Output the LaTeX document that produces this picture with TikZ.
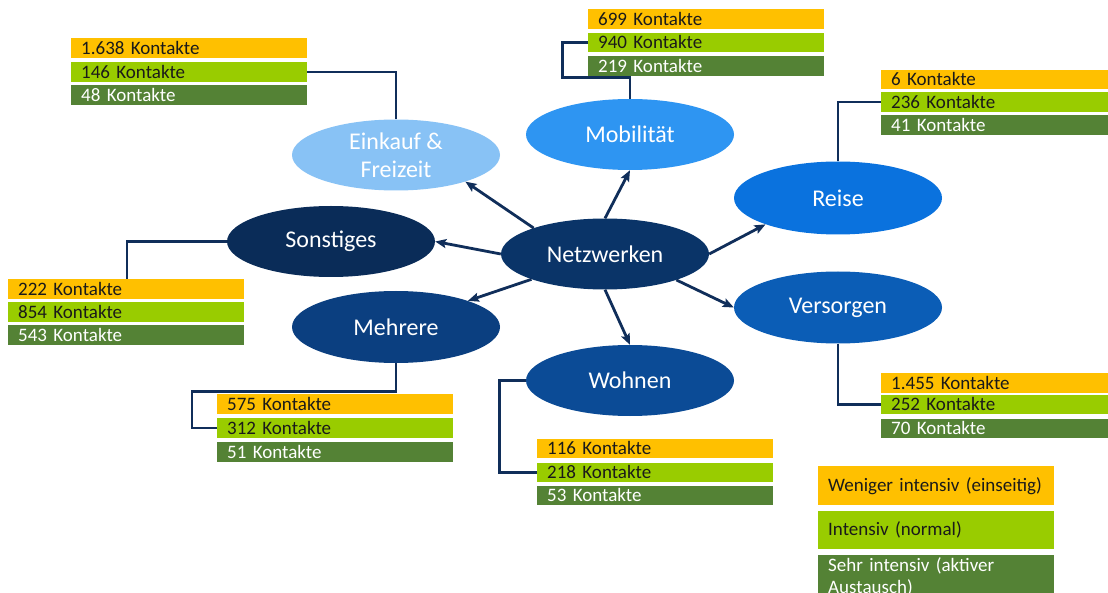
\documentclass[tikz,border=0pt]{standalone}
\usepackage{fontspec}
\setmainfont{Carlito}
\usetikzlibrary{shapes.geometric,arrows.meta,calc}
\definecolor{navy}{HTML}{102E5A}
\definecolor{kor}{HTML}{FFC000}
\definecolor{kgr}{HTML}{99CC00}
\definecolor{kdg}{HTML}{548235}
\definecolor{cEink}{HTML}{88C2F5}
\definecolor{cMob}{HTML}{2E95F2}
\definecolor{cReise}{HTML}{0A72DE}
\definecolor{cVers}{HTML}{0B5DB6}
\definecolor{cWohn}{HTML}{0B4B96}
\definecolor{cMehr}{HTML}{0B3F80}
\definecolor{cNetz}{HTML}{0A3468}
\definecolor{cSonst}{HTML}{0A2C58}
\definecolor{ktext}{HTML}{1A1A1A}
\tikzset{
  topic/.style={ellipse, minimum width=208pt, minimum height=71pt, inner sep=0pt,
    text=white, font=\fontsize{24}{28}\selectfont, align=center},
  krow/.style={anchor=north west, minimum height=19.5pt, inner xsep=10pt, inner ysep=0pt,
    text width=216pt, align=left, font=\fontsize{19}{21}\selectfont},
  kor row/.style={krow, fill=kor, text=ktext},
  kgr row/.style={krow, fill=kgr, text=ktext},
  kdg row/.style={krow, fill=kdg, text=white},
  link/.style={draw=navy, line width=2.8pt},
  arr/.style={draw=navy, line width=2.8pt, -{Stealth[length=11pt,width=9pt,inset=2pt]}},
}
\begin{document}
\begin{tikzpicture}[x=1pt,y=-1pt]
\clip (0,0) rectangle (1108,593);
\fill[white] (0,0) rectangle (1108,593);

% topic ellipses
\node[topic, fill=cNetz]  (netz)  at (605,254)   {Netzwerken};
\node[topic, fill=cEink]  (eink)  at (396,155)   {Einkauf \&\\Freizeit};
\node[topic, fill=cMob]   (mob)   at (630,134.5) {Mobilität};
\node[topic, fill=cReise, minimum height=73pt] (reise) at (838,198) {Reise};
\node[topic, fill=cSonst] (sonst) at (331,241.5) {Sonstiges};
\node[topic, fill=cMehr, minimum height=72pt] (mehr) at (396,327) {Mehrere};
\node[topic, fill=cVers, minimum height=72pt] (vers) at (838,307.5) {Versorgen};
\node[topic, fill=cWohn]  (wohn)  at (630,380.5) {Wohnen};

% arrows
\draw[arr] (netz.160.4) -- (eink.339.8);
\draw[arr] (netz.90) -- (mob.270);
\draw[arr] (netz.0) -- (reise.200.5);
\draw[arr] (netz.340.9) -- (vers.180);
\draw[arr] (netz.270) -- (wohn.90);
\draw[arr] (netz.199) -- (mehr.20.1);
\draw[arr] (netz.180) -- (sonst.0);

% contact boxes
\node[kor row] (e1o) at (71,38)   {1.638 Kontakte};
\node[kgr row] (e1g) at (71,62)   {146 Kontakte};
\node[kdg row] (e1d) at (71,85)   {48 Kontakte};

\node[kor row] (m2o) at (588,9)   {699 Kontakte};
\node[kgr row] (m2g) at (588,32.5) {940 Kontakte};
\node[kdg row] (m2d) at (588,56)  {219 Kontakte};

\node[kor row] (r2o) at (881,69.5) {6 Kontakte};
\node[kgr row] (r2g) at (881,92)  {236 Kontakte};
\node[kdg row] (r2d) at (881,115) {41 Kontakte};

\node[kor row] (s1o) at (8,279)   {222 Kontakte};
\node[kgr row] (s1g) at (8,302)   {854 Kontakte};
\node[kdg row] (s1d) at (8,325)   {543 Kontakte};

\node[kor row] (h2o) at (217,394) {575 Kontakte};
\node[kgr row] (h2g) at (217,418) {312 Kontakte};
\node[kdg row] (h2d) at (217,442) {51 Kontakte};

\node[kor row] (v2o) at (881,373) {1.455 Kontakte};
\node[kgr row] (v2g) at (881,394.5) {252 Kontakte};
\node[kdg row] (v2d) at (881,418.5) {70 Kontakte};

\node[kor row] (w2o) at (537,438.5) {116 Kontakte};
\node[kgr row] (w2g) at (537,462.5) {218 Kontakte};
\node[kdg row] (w2d) at (537,485.5) {53 Kontakte};

% connectors
\coordinate (sc) at (127,279);
\draw[link] (e1g.east) -| (eink.north);
\draw[link] (m2g.west) -- ++(-25.5,0) |- ([yshift=-1.5pt]mob.north |- m2d.south) -- (mob.north);
\draw[link] (r2g.west) -| (reise.north);
\draw[link] (sonst.west) -| (sc);
\draw[link] (mehr.south) -- ++(0,28) -| ([xshift=-25pt]h2g.west) -- (h2g.west);
\draw[link] (vers.south) |- (v2g.west);
\draw[link] (wohn.west) -- ++(-26,0) |- (w2g.west);

% legend
\node[kor row, minimum height=39pt] (lo) at (818,466) {Weniger intensiv (einseitig)};
\node[kgr row, minimum height=38pt] (lg) at (818,511) {Intensiv (normal)};
\node[kdg row, inner ysep=0pt, minimum height=0pt, text height=16pt,
      font=\fontsize{19}{22}\selectfont] (ld) at (818,555)
  {Sehr intensiv (aktiver\\Austausch)};
\end{tikzpicture}
\end{document}
